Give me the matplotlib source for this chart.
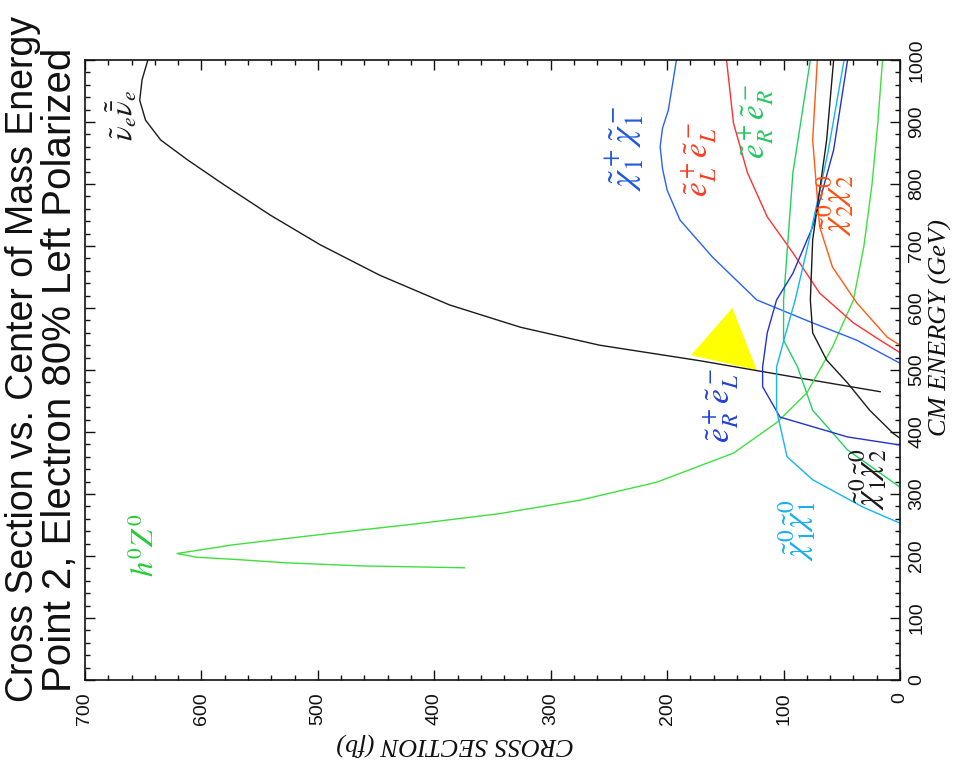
import matplotlib
matplotlib.use('Agg')
import matplotlib.pyplot as plt
from matplotlib.ticker import MultipleLocator
from matplotlib.patches import Polygon
import numpy as np

plt.rcParams['mathtext.fontset'] = 'stix'
plt.rcParams['font.family'] = ['Liberation Sans', 'DejaVu Sans']

# ---------------- data (CM energy in GeV, cross section in fb) ----------------
snu_E = [465, 487, 515, 540, 569, 605, 653, 702, 750, 798, 839, 871, 903, 935, 968, 1000]
snu_sig = [17, 86, 172, 258, 326, 387, 447, 498, 541, 580, 612, 635, 648, 653, 651, 646]

hz_E = [181, 184, 189, 194, 198, 204, 218, 237, 252, 268, 290, 319, 366, 415, 463, 537, 613, 700, 800, 900, 1000]
hz_sig = [374, 462, 527, 567, 604, 621, 573, 487, 415, 345, 275, 209, 143, 106, 80, 58, 40, 31, 24, 19, 15]

c1c1_E = [511, 548, 576, 613, 682, 742, 790, 825, 860, 890, 919, 1000]
c1c1_sig = [0, 37, 75, 123, 161, 189, 200, 204, 206, 204, 199, 192]

eLeL_E = [528, 548, 576, 624, 689, 747, 818, 898, 1000]
eLeL_sig = [0, 17, 40, 69, 92, 114, 131, 143, 149]

n2n2_E = [540, 553, 608, 666, 731, 871, 1000]
n2n2_sig = [0, 11, 37, 58, 69, 75, 71]

eReR_E = [311, 371, 435, 505, 548, 613, 689, 818, 1000]
eReR_sig = [0, 45, 75, 88, 100, 100, 97, 92, 77]

eReL_E = [379, 392, 424, 473, 505, 560, 613, 656, 731, 855, 1000]
eReL_sig = [0, 45, 103, 118, 118, 114, 106, 92, 75, 57, 45]

n1n1_E = [253, 279, 323, 360, 435, 505, 560, 613, 710, 850, 1000]
n1n1_sig = [0, 32, 75, 97, 106, 106, 98, 90, 78, 62, 48]

n1n2_E = [390, 398, 435, 479, 516, 560, 613, 710, 790, 871, 1000]
n1n2_sig = [0, 6, 26, 45, 63, 75, 77, 75, 69, 63, 57]

tri_sig = [144, 179.5, 123]
tri_E = [600, 524, 500]

series = [
    (snu_sig, snu_E, '#1a1a1a', r'$\tilde{\nu}_e\tilde{\bar{\nu}}_e$', 668, 910, '#1a1a1a', 22),
    (hz_sig, hz_E, '#3ee03e', r'$h^0Z^0$', 648, 218, '#22cc33', 22),
    (c1c1_sig, c1c1_E, '#2a62f0', r'$\tilde{\chi}_1^+\tilde{\chi}_1^-$', 236, 858, '#1f58e0', 26),
    (eLeL_sig, eLeL_E, '#ff3030', r'$\tilde{e}_L^+\tilde{e}_L^-$', 172, 839, '#ff3a20', 24),
    (n2n2_sig, n2n2_E, '#ff5a10', r'$\tilde{\chi}_2^0\tilde{\chi}_2^0$', 56, 766, '#ff5010', 24),
    (eReR_sig, eReR_E, '#22d060', r'$\tilde{e}_R^+\tilde{e}_R^-$', 123, 900, '#22c860', 24),
    (eReL_sig, eReL_E, '#2232d0', r'$\tilde{e}_R^+\tilde{e}_L^-$', 153, 443, '#2040d8', 24),
    (n1n1_sig, n1n1_E, '#12b4f2', r'$\tilde{\chi}_1^0\tilde{\chi}_1^0$', 88, 242, '#18b0f0', 24),
    (n1n2_sig, n1n2_E, '#1a1a1a', r'$\tilde{\chi}_1^0\tilde{\chi}_2^0$', 27.5, 323, '#1a1a1a', 24),
]

x_ticks = [0, 100, 200, 300, 400, 500, 600, 700]
y_ticks = [0, 100, 200, 300, 400, 500, 600, 700, 800, 900, 1000]

fig = plt.figure(figsize=(9.58, 7.71), dpi=100)
ax = fig.add_axes([85 / 958, 1 - 680 / 771, 815 / 958, 620 / 771])
ax.set_xlim(700, 0)
ax.set_ylim(0, 1000)

ax.add_patch(Polygon(np.column_stack([tri_sig, tri_E]), closed=True,
                     facecolor='#ffff00', edgecolor='none', zorder=1.5))

for sig, E, col, lab, lx, ly, lcol, fs in series:
    ax.plot(sig, E, color=col, lw=1.0, zorder=2, solid_joinstyle='round')
    ax.text(lx, ly, lab, color=lcol, fontsize=fs, rotation=90,
            ha='center', va='center', zorder=3)

ax.set_xticks(x_ticks)
ax.set_yticks(y_ticks)
ax.xaxis.set_minor_locator(MultipleLocator(20))
ax.yaxis.set_minor_locator(MultipleLocator(20))
ax.tick_params(which='both', direction='in', top=True, bottom=True, left=True,
               right=True, labelleft=False, labelright=True, labelbottom=True,
               labeltop=False, colors='#111111')
ax.tick_params(which='major', length=7, width=1.0)
ax.tick_params(which='minor', length=3.5, width=1.0)
ax.tick_params(axis='x', labelrotation=90, pad=9, labelsize=14)
ax.tick_params(axis='y', labelrotation=90, pad=6, labelsize=14)
for t in ax.get_yticklabels():
    t.set_va('center')
for s in ax.spines.values():
    s.set_linewidth(1.2)
    s.set_color('#111111')

fig.text(455 / 958, 1 - 745 / 771, 'CROSS SECTION (fb)', rotation=180,
         ha='center', va='center', fontsize=19, family='Liberation Serif',
         style='italic', color='#111111')
fig.text(940 / 958, 1 - 328 / 771, 'CM ENERGY (GeV)', rotation=90,
         ha='center', va='center', fontsize=19, family='Liberation Serif',
         style='italic', color='#111111')

fig.text(33 / 958, 1 - 702 / 771, 'Cross Section vs. Center of Mass Energy',
         rotation=90, rotation_mode='anchor', ha='left', va='baseline',
         fontsize=27, color='#111111')
fig.text(71 / 958, 1 - 692 / 771, 'Point 2, Electron 80% Left Polarized',
         rotation=90, rotation_mode='anchor', ha='left', va='baseline',
         fontsize=29, color='#111111')

fig.savefig('out.png', dpi=100)
